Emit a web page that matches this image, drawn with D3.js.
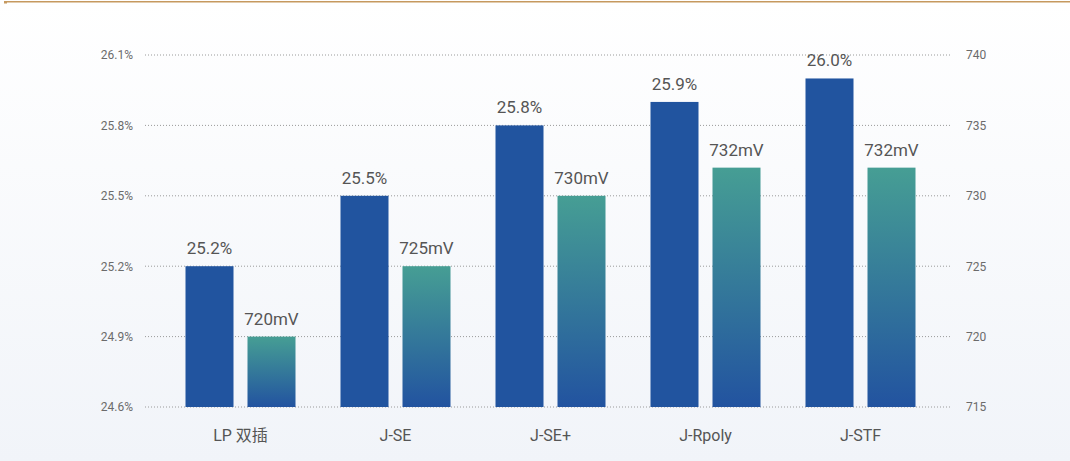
<!DOCTYPE html>
<meta charset="utf-8">
<script src="https://d3js.org/d3.v7.min.js"></script>
<style>
  body { margin: 0; }
  text { font-family: Roboto, "Noto Sans CJK SC", sans-serif; }
</style>
<div id="chart"></div>
<script>
// data
var categories = ["LP 双插", "J-SE", "J-SE+", "J-Rpoly", "J-STF"];
var efficiency = [25.2, 25.5, 25.8, 25.9, 26.0];   // %
var voc = [720, 725, 730, 732, 732];              // mV
var leftTicks = [24.6, 24.9, 25.2, 25.5, 25.8, 26.1];
var rightTicks = [715, 720, 725, 730, 735, 740];

var width = 1070, height = 461;

var svg = d3.select("#chart").append("svg")
    .attr("width", width)
    .attr("height", height);

var defs = svg.append("defs");
var bg = defs.append("linearGradient").attr("id", "bg")
    .attr("x1", 0).attr("y1", 0).attr("x2", 0).attr("y2", 1);
bg.append("stop").attr("offset", "0%").attr("stop-color", "#ffffff");
bg.append("stop").attr("offset", "100%").attr("stop-color", "#f1f4f9");

var teal = defs.append("linearGradient").attr("id", "teal")
    .attr("x1", 0).attr("y1", 0).attr("x2", 0).attr("y2", 1);
teal.append("stop").attr("offset", "0%").attr("stop-color", "#469e94");
teal.append("stop").attr("offset", "100%").attr("stop-color", "#2253a0");

svg.append("rect").attr("width", width).attr("height", height).attr("fill", "url(#bg)");
// thin top border
svg.append("rect").attr("x", 4).attr("y", 1).attr("width", width - 4).attr("height", 1.5).attr("fill", "#c6995f");
svg.append("rect").attr("x", 4).attr("y", 1).attr("width", 3).attr("height", 2.5).attr("fill", "#c6995f");

var yL = d3.scaleLinear().domain([24.6, 26.1]).range([407, 55]);
var yR = d3.scaleLinear().domain([715, 740]).range([407, 55]);
var x = d3.scaleBand().domain(categories).range([163, 938]);

var gridX0 = 145, gridX1 = 950;

// gridlines
svg.append("g").selectAll("line").data(leftTicks).join("line")
    .attr("x1", gridX0).attr("x2", gridX1)
    .attr("y1", d => yL(d)).attr("y2", d => yL(d))
    .attr("stroke", "#9a9a9a")
    .attr("stroke-width", 1)
    .attr("stroke-dasharray", "1,2");

// left axis
var leftAxis = svg.append("g")
    .attr("transform", "translate(" + gridX0 + ",0)")
    .call(d3.axisLeft(yL).tickValues(leftTicks).tickSize(0).tickPadding(12)
      .tickFormat(d => d.toFixed(1) + "%"));
leftAxis.select(".domain").remove();
leftAxis.selectAll("text").attr("fill", "#6b6b6b").style("font-size", "12px");

// right axis
var rightAxis = svg.append("g")
    .attr("transform", "translate(" + gridX1 + ",0)")
    .call(d3.axisRight(yR).tickValues(rightTicks).tickSize(0).tickPadding(16));
rightAxis.select(".domain").remove();
rightAxis.selectAll("text").attr("fill", "#6b6b6b").style("font-size", "12px");

// bars
var barW = 48;
var groups = svg.append("g").selectAll("g").data(categories).join("g")
    .attr("transform", d => "translate(" + (x(d) + x.bandwidth() / 2) + ",0)");

groups.append("rect")
    .attr("x", -55).attr("width", barW)
    .attr("y", (d, i) => yL(efficiency[i]))
    .attr("height", (d, i) => yL(24.6) - yL(efficiency[i]))
    .attr("fill", "#21549f");

groups.append("rect")
    .attr("x", 7).attr("width", barW)
    .attr("y", (d, i) => yR(voc[i]))
    .attr("height", (d, i) => yR(715) - yR(voc[i]))
    .attr("fill", "url(#teal)");

groups.append("text")
    .attr("x", -55 + barW / 2)
    .attr("y", (d, i) => yL(efficiency[i]) - 12)
    .attr("text-anchor", "middle")
    .attr("fill", "#555")
    .style("font-size", "17px")
    .text((d, i) => efficiency[i].toFixed(1) + "%");

groups.append("text")
    .attr("x", 7 + barW / 2)
    .attr("y", (d, i) => yR(voc[i]) - 12)
    .attr("text-anchor", "middle")
    .attr("fill", "#555")
    .style("font-size", "17px")
    .text((d, i) => voc[i] + "mV");

// category labels
var xAxis = svg.append("g")
    .attr("transform", "translate(0,407)")
    .call(d3.axisBottom(x).tickSize(0).tickPadding(23));
xAxis.select(".domain").remove();
xAxis.selectAll("text").attr("fill", "#555").style("font-size", "16px");
</script>
